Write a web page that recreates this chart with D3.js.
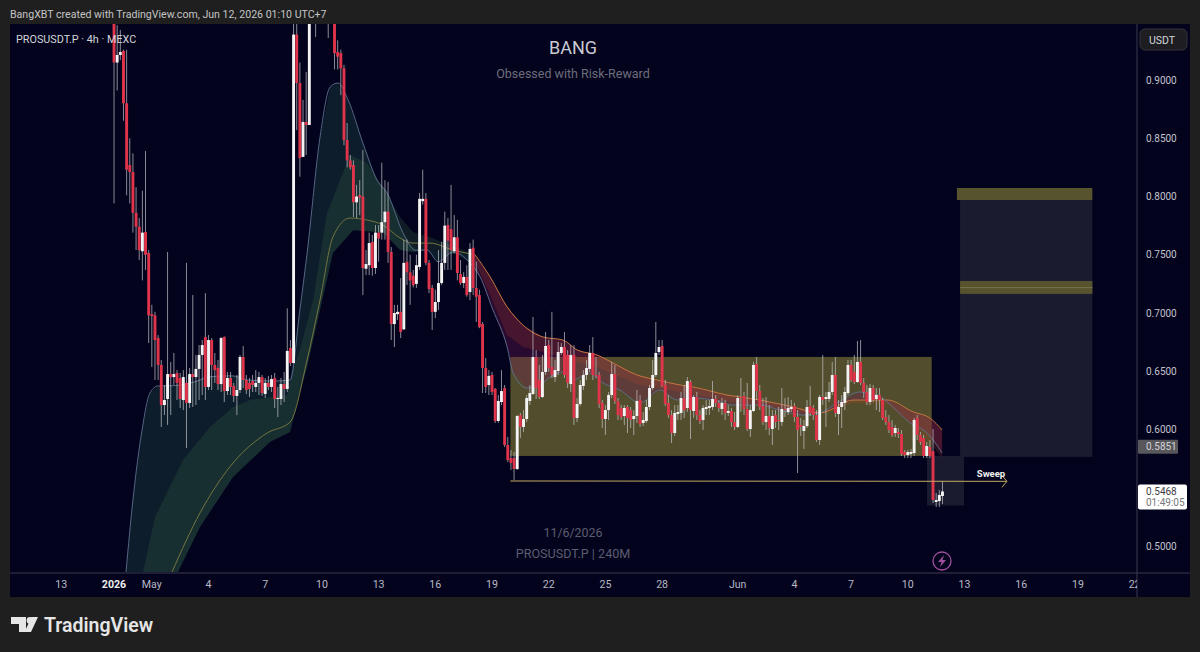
<html>
	<head>
		<meta content="text/html;charset=utf-8" http-equiv="Content-Type">
		<script src="https://d3js.org/d3.v7.min.js"></script>
		<style>
		html, body { margin:0; padding:0; background:#1f1f1f; overflow:hidden; }
		svg { display:block; }
		text { font-family:Roboto, sans-serif; }
		</style>
	</head>
	<body>
		<svg id="chart"></svg>
		<script>

	// 4h candles, oldest first (values above about 0.947 run off the top of the pane)
	var opens = [
		.985,.915,.9215,.925,.880,.827,.821,.786,.774,.753,
		.7695,.7515,.699,.698,.6785,.6554,.621,.6262,.6476,.645,
		.6485,.6442,.6253,.640,.6228,.6476,.645,.652,.664,.6794,
		.6365,.6768,.6554,.6528,.639,.6794,.633,.6442,.6374,.6288,
		.6339,.6622,.6425,.640,.6416,.6365,.640,.645,.6305,.640,
		.6365,.6442,.6262,.6262,.639,.6348,.670,.657,.939,.8974,
		.834,.864,.8614,.96,1.03,1.08,1.05,1.02,1.00,.98,
		.965,.924,.923,.910,.8485,.831,.827,.795,.801,.800,
		.738,.741,.761,.7386,.769,.769,.778,.787,.7524,.6905,
		.699,.701,.686,.744,.735,.732,.725,.7395,.796,.798,
		.743,.7215,.701,.7094,.7257,.743,.7755,.772,.753,.765,
		.7335,.7257,.731,.718,.756,.7215,.7154,.6905,.6528,.6382,
		.6468,.6348,.6073,.6236,.6356,.5867,.5755,.5755,.5661,.6124,
		.6022,.609,.6245,.6305,.6622,.6425,.6279,.6494,.6725,.6537,
		.645,.6502,.6657,.6708,.664,.639,.664,.6099,.6219,.6374,
		.6468,.652,.6657,.6468,.6468,.6228,.609,.6167,.6296,.6476,
		.6245,.6185,.6116,.6193,.6167,.609,.6116,.6253,.6056,.6073,
		.6193,.6356,.6468,.6665,.6717,.6382,.6228,.6124,.597,.6133,
		.6142,.627,.6185,.6408,.6159,.6279,.6124,.6082,.6176,.6185,
		.6193,.6262,.6228,.6176,.6228,.6142,.6159,.6064,.6022,.6279,
		.6288,.6176,.6004,.6159,.6562,.633,.6202,.6064,.6116,.6004,
		.6124,.6082,.6064,.6176,.615,.6176,.6202,.6107,.6039,.5987,
		.603,.6202,.6185,.6124,.591,.6279,.6262,.6262,.6322,.6468,
		.6133,.6193,.6228,.6313,.6554,.6494,.6408,.658,.640,.6322,
		.6236,.6356,.6262,.6296,.6253,.6107,.6064,.6022,.597,.5979,
		.5961,.5807,.5781,.579,.5798,.6099,.5953,.5927,.5773,.585,
		.5815,.5378,.5386,.5429
	];
	var closes = [
		.915,.9215,.924,.880,.823,.821,.786,.774,.754,.769,
		.750,.698,.6974,.6768,.6554,.621,.6253,.6476,.645,.6476,
		.640,.6262,.645,.6228,.6476,.645,.652,.664,.6725,.6365,
		.6768,.6554,.651,.639,.6785,.633,.6442,.6365,.6288,.6339,
		.6622,.6425,.6339,.6348,.6382,.640,.645,.6313,.640,.6365,
		.6433,.6262,.627,.639,.6348,.6674,.657,.939,.8974,.833,
		.864,.8614,.96,1.03,1.08,1.05,1.02,1.00,.98,.965,
		.923,.920,.910,.8485,.831,.825,.795,.800,.799,.7386,
		.742,.760,.7386,.769,.764,.778,.787,.7524,.6905,.700,
		.701,.6837,.743,.735,.728,.724,.741,.798,.798,.743,
		.7206,.701,.7094,.7257,.743,.775,.762,.754,.765,.7343,
		.7257,.731,.7154,.755,.7215,.714,.688,.6528,.6365,.646,
		.6322,.6073,.6245,.633,.5867,.5738,.5713,.5661,.6116,.6022,
		.609,.627,.6313,.6622,.6356,.6279,.6494,.6717,.6528,.6468,
		.651,.6665,.6708,.6468,.640,.664,.6099,.6219,.6382,.6468,
		.6528,.6657,.6468,.646,.6219,.609,.6167,.6296,.6476,.6245,
		.6124,.6107,.6185,.6099,.6082,.6116,.6245,.6047,.6082,.6193,
		.6356,.6468,.6657,.6708,.6374,.6219,.6124,.597,.6142,.615,
		.627,.6167,.6416,.6167,.6279,.6124,.6073,.6185,.6193,.6202,
		.6262,.6228,.6185,.6228,.6142,.6159,.6064,.6022,.627,.627,
		.6176,.6004,.6167,.6554,.633,.6193,.6064,.6116,.6013,.6116,
		.6064,.6073,.6176,.6167,.6185,.6193,.6107,.5996,.6022,.603,
		.6193,.6142,.6124,.591,.6279,.6253,.6279,.6322,.6468,.6142,
		.6193,.6236,.6322,.6554,.6425,.6408,.658,.640,.6322,.6236,
		.6356,.6253,.6296,.6253,.6099,.6064,.5996,.5953,.6013,.5961,
		.579,.5781,.5807,.5807,.6082,.5953,.5893,.5773,.5858,.5773,
		.5395,.5395,.5438,.5468
	];
	var highs = [
		1.02,.947,.943,.926,.926,.850,.837,.808,.7815,.805,
		.839,.754,.707,.701,.681,.6597,.6382,.7524,.658,.6657,
		.651,.6485,.651,.743,.6528,.7154,.664,.6725,.6768,.717,
		.681,.6785,.6657,.6597,.6794,.680,.6494,.6494,.640,.6468,
		.664,.6717,.6468,.6442,.6468,.651,.6494,.6468,.6442,.646,
		.6468,.6485,.6365,.6442,.6494,.704,.6768,1.0,.97,.915,
		.883,.907,1.02,1.06,1.12,1.15,1.10,1.08,1.05,1.02,
		1.0,.934,.926,.913,.8631,.8356,.831,.810,.814,.840,
		.754,.769,.767,.7755,.7755,.829,.814,.8125,.7566,.707,
		.707,.730,.763,.763,.750,.737,.750,.803,.823,.803,
		.7455,.724,.720,.754,.761,.787,.7815,.810,.784,.780,
		.7455,.735,.741,.760,.763,.744,.720,.6923,.6614,.651,
		.6494,.6356,.6296,.651,.6382,.5936,.5824,.5807,.6124,.6142,
		.6167,.6296,.6382,.6966,.6682,.6554,.664,.6837,.6768,.701,
		.6597,.6751,.6742,.6837,.6682,.6725,.6725,.627,.6425,.651,
		.6597,.6725,.6794,.6622,.6494,.6253,.621,.6322,.658,.6554,
		.627,.621,.621,.621,.6193,.6167,.6339,.6296,.615,.6253,
		.6382,.6597,.6923,.6768,.6768,.6425,.6296,.6167,.621,.621,
		.6322,.6382,.645,.6425,.6296,.6322,.6167,.621,.6253,.6253,
		.6416,.6296,.6253,.627,.6253,.621,.6185,.615,.6296,.6442,
		.6322,.640,.621,.658,.6622,.6382,.627,.6279,.621,.6167,
		.6167,.6193,.6356,.627,.6279,.6253,.6228,.6167,.6099,.6082,
		.6253,.6374,.621,.6167,.6296,.664,.6322,.6408,.658,.6622,
		.6253,.6296,.6365,.6597,.6597,.664,.676,.6768,.6442,.6382,
		.639,.6382,.6356,.6356,.627,.6167,.6124,.6082,.6039,.6013,
		.5996,.5824,.5824,.5833,.6099,.6124,.5979,.5953,.5893,.591,
		.6004,.5455,.5481,.5558
	];
	var lows = [
		.794,.891,.917,.865,.801,.794,.769,.754,.7455,.728,
		.737,.6742,.6537,.6425,.6425,.6022,.6124,.6039,.6124,.6382,
		.6253,.6185,.6167,.5841,.6185,.6193,.621,.6253,.6296,.6253,
		.6339,.6339,.640,.6339,.6322,.6236,.6296,.6296,.6236,.6124,
		.6313,.6356,.6305,.6279,.6322,.6322,.6296,.6288,.627,.6339,
		.6322,.6185,.6107,.621,.6236,.6322,.6545,.657,.857,.817,
		.834,.8356,.8614,.955,.937,1.0,1.0,.98,.936,.955,
		.909,.909,.887,.844,.825,.823,.7824,.7815,.784,.7154,
		.7326,.7326,.732,.7335,.744,.763,.763,.743,.6768,.6708,
		.694,.6785,.6854,.724,.707,.722,.7215,.737,.793,.741,
		.717,.6854,.6957,.7026,.724,.737,.737,.737,.7515,.728,
		.724,.7215,.714,.711,.7154,.6923,.687,.6313,.6313,.6296,
		.6296,.6056,.6056,.621,.585,.5721,.5652,.5567,.5652,.5927,
		.5979,.6064,.621,.6296,.6262,.6262,.627,.6468,.6494,.6442,
		.6408,.6468,.664,.6442,.6356,.6322,.6039,.6064,.6202,.6339,
		.6425,.6494,.6425,.6442,.6185,.6013,.5953,.6082,.627,.6219,
		.6082,.6082,.6039,.597,.6013,.5953,.6056,.6022,.603,.6056,
		.6167,.6339,.645,.664,.6365,.6202,.6099,.5884,.5944,.6082,
		.6082,.6099,.615,.5918,.6099,.6082,.6047,.5996,.6124,.6124,
		.6167,.6193,.615,.6124,.6082,.6116,.6022,.5996,.6013,.615,
		.6124,.5987,.5936,.615,.6253,.6167,.6039,.5996,.5953,.5867,
		.6013,.5996,.603,.6107,.6124,.615,.6064,.5627,.5944,.5833,
		.6013,.6116,.6082,.5893,.5867,.621,.6022,.6236,.6296,.6107,
		.5953,.6013,.6167,.6296,.6408,.639,.640,.6382,.627,.621,
		.621,.6236,.6167,.615,.6082,.6039,.597,.5936,.5936,.5927,
		.5773,.5755,.5755,.5755,.5773,.591,.5867,.5755,.5755,.5755,
		.5369,.5335,.5335,.536
	];

	// moving averages, read as [bar number, price] at the bends
	var fastBars = [3.8,6,8.9,11.4,14,16.8,21,27.3,29.5,35.9,37.8,42.2,50.5,55.9,59,61.3,65.4,68.6,71.1,74.3,79,83.5,86.7,91.7,95.6,99.4,102.9,107.6,113,116.2,120.3,124.8,126.7,131.1,134.3,138.4,142.5,145.7,151.1,155.2,160.6,167,173.3,178.7,183.8,190.2,196.5,205,211.4,218.7,224.1,229.5,236.8,242.2,247.3,252.7,258.1,262.9];
	var fastPrices = [.4777,.5395,.5996,.6313,.6374,.6374,.6382,.6425,.645,.646,.646,.6425,.6416,.6425,.7026,.7515,.851,.894,.8974,.883,.846,.814,.803,.769,.754,.754,.744,.7524,.743,.731,.7026,.6708,.6485,.6356,.6365,.645,.6494,.6425,.6485,.640,.6339,.6228,.6339,.6253,.627,.6253,.621,.621,.6167,.6124,.6142,.6228,.6322,.6296,.6193,.6056,.597,.5798];
	var slowBars = [18.4,27.3,36.8,48.6,55.9,61.3,65.4,69.5,74.9,80.3,85.4,90.8,94.9,100.3,107.6,114.6,119.4,124.8,129.8,136.2,142.5,147,153.3,158.4,166,172.4,179.7,183.8,194.6,205,215.6,224.1,234.8,245.6,253.8,259,262.9];
	var slowPrices = [.4777,.5284,.568,.597,.6064,.6597,.7112,.7653,.7815,.7798,.7755,.7644,.76,.76,.754,.75,.731,.7052,.6897,.6794,.6768,.6683,.664,.6571,.6468,.6425,.6382,.6365,.6296,.6253,.6193,.6142,.6253,.6253,.615,.6099,.5996];
	var bandTopBars = [9.2,13,21.9,30.5,37.8,43.2,54.9,56.8,59,63.2,67.6,74.9,80.3,85.4,90.8,94.9,100.3,107.6,114.6];
	var bandTopPrices = [.4777,.5249,.5738,.6022,.6193,.6253,.6296,.651,.6683,.7112,.7858,.8356,.8287,.808,.7824,.7696,.765,.7575,.75];
	var bandLowBars = [20.3,27.3,37.8,49.5,55.9,58.1,61.3,65.4,69.5,75.9,85.4,90.8,94.9,100.3,107.6,114.6];
	var bandLowPrices = [.4777,.5164,.5592,.5893,.5979,.6228,.6537,.7026,.7515,.771,.769,.754,.7524,.754,.7507,.75];
	var redLowBars = [114.6,119.4,124.8,129.8,136.2,142.5,147,153.3,158.4,166,172.4,179.7,183.8,194.6,205,215.6,224.1,234.8,245.6,253.8,259,262.9];
	var redLowPrices = [.7438,.7154,.681,.6708,.6665,.6614,.658,.6537,.6476,.639,.6356,.6322,.6305,.6245,.6202,.6159,.6133,.6228,.621,.6039,.5884,.5755];

	// 0.55 has no label, the last price tag sits on it
	var priceTicks = [0.5,0.6,0.65,0.7,0.75,0.8,0.85,0.9];
	var tickDates = ["2026-04-26T05:00","2026-04-29T00:00","2026-05-01T00:00","2026-05-04T00:00","2026-05-07T00:00","2026-05-10T00:00","2026-05-13T00:00","2026-05-16T00:00","2026-05-19T00:00","2026-05-22T00:00","2026-05-25T00:00","2026-05-28T00:00","2026-06-01T00:00","2026-06-04T00:00","2026-06-07T00:00","2026-06-10T00:00","2026-06-13T00:00","2026-06-16T00:00","2026-06-19T00:00","2026-06-22T00:00"];
	var tickLabels = ["13","2026","May","4","7","10","13","16","19","22","25","28","Jun","4","7","10","13","16","19","22"];

	// drawings on the chart: [from, to, price top, price bottom]
	var rangeBox = ["2026-05-20T00:00","2026-06-11T07:00",.6623,.5773];
	var targetBox = ["2026-06-12T19:00","2026-06-19T19:00",.797,.5765];
	var sweepBox = ["2026-06-11T01:00","2026-06-13T00:00",.5773,.5348];
	var topZone = ["2026-06-12T15:00","2026-06-19T19:00",.8073,.797];
	var midZone = ["2026-06-12T19:00","2026-06-19T19:00",.7275,.7164];
	var sweepLine = ["2026-05-20T00:00","2026-06-15T06:30",.5558,.5555];
	var lastPrice = 0.5468, rangePrice = 0.5851, countdown = "01:49:05";

	page();

	function page(){
		var svg = d3.select("#chart").attr("width",1200).attr("height",652);
		var left = 10, right = 1190, top = 24, bottom = 597, axisX = 1137, axisY = 573;
		var firstBar = new Date(2026,3,29,0,40);

		var x = d3.scaleTime()
			.domain([new Date(2026,4,4), new Date(2026,5,13)])
			.range([208,964]);
		var y = d3.scaleLinear().domain([0.5,0.9]).range([546,80]);
		var barTime = function(i){ return new Date(+firstBar + i*4*3600*1000); };
		var parse = function(s){ return new Date(s); };

		svg.append("rect").attr("width",1200).attr("height",652).attr("fill","#1f1f1f");
		svg.append("rect").attr("x",left).attr("y",top).attr("width",right-left).attr("height",bottom-top).attr("fill","#03031d");

		var defs = svg.append("defs");
		defs.append("clipPath").attr("id","pane").append("rect")
			.attr("x",left).attr("y",top).attr("width",axisX-left).attr("height",axisY-top);
		defs.append("clipPath").attr("id","timeStrip").append("rect")
			.attr("x",left).attr("y",axisY).attr("width",axisX-left).attr("height",bottom-axisY);

		var pane = svg.append("g").attr("clip-path","url(#pane)");

		function box(b, fill){
			pane.append("rect")
				.attr("x",x(parse(b[0]))).attr("y",y(b[2]))
				.attr("width",x(parse(b[1]))-x(parse(b[0])))
				.attr("height",y(b[3])-y(b[2]))
				.attr("fill",fill);
		}
		box(targetBox,"#1b1b30");
		box(sweepBox,"#1b1b30");
		box(topZone,"#58532f");
		box(midZone,"#58532f");
		box(rangeBox,"#524d2c");

		pane.append("line")
			.attr("x1",x(parse(midZone[0]))).attr("x2",x(parse(midZone[1])))
			.attr("y1",y(.7218)).attr("y2",y(.7218))
			.attr("stroke","#77724c").attr("stroke-width",1);

		// ma ribbons
		var pts = function(bars, prices){
			return bars.map(function(b,i){ return [x(barTime(b)), y(prices[i])]; });
		};
		var fast = pts(fastBars,fastPrices), slow = pts(slowBars,slowPrices);
		var bandTop = pts(bandTopBars,bandTopPrices), bandLow = pts(bandLowBars,bandLowPrices);
		var redLow = pts(redLowBars,redLowPrices);
		var slowSplit = slowBars.indexOf(114.6), fastSplit = fastBars.indexOf(116.2);
		var smooth = d3.line().curve(d3.curveMonotoneX);
		var straight = d3.line();

		var poly = function(a, b, fill, op){
			pane.append("path").attr("d",straight(a.concat(b.slice().reverse()))+"Z").attr("fill",fill).attr("opacity",op);
		};
		poly(fast.slice(0,fastSplit+1), bandLow, "#1d4540", 0.4);
		poly(bandTop, bandLow, "#2f5a3e", 0.3);
		poly(fast.slice(fastSplit-1), slow.slice(slowSplit), "#7a1a5a", 0.32);
		poly(slow.slice(slowSplit), redLow, "#c0482a", 0.2);

		pane.append("path").attr("d",smooth(slow.slice(0,slowSplit+1))).attr("fill","none").attr("stroke","#75753f").attr("stroke-width",1);
		pane.append("path").attr("d",smooth(slow.slice(slowSplit))).attr("fill","none").attr("stroke","#c47540").attr("stroke-width",1);
		pane.append("path").attr("d",smooth(fast)).attr("fill","none").attr("stroke","#5d7090").attr("stroke-width",1).attr("opacity",0.9);

		// candles
		var candles = pane.append("g").selectAll("g").data(d3.range(opens.length)).enter().append("g");
		candles.append("line")
			.attr("x1",function(i){ return x(barTime(i)); })
			.attr("x2",function(i){ return x(barTime(i)); })
			.attr("y1",function(i){ return y(highs[i]); })
			.attr("y2",function(i){ return y(lows[i]); })
			.attr("stroke","#c4c4c8").attr("stroke-opacity",0.7).attr("stroke-width",1);
		candles.append("rect")
			.attr("x",function(i){ return x(barTime(i))-1.45; })
			.attr("width",2.9)
			.attr("y",function(i){ return y(Math.max(opens[i],closes[i])); })
			.attr("height",function(i){ return Math.max(1,Math.abs(y(opens[i])-y(closes[i]))); })
			.attr("fill",function(i){ return closes[i]>=opens[i] ? "#f4f4f4" : "#e0344a"; });

		// sweep line and arrow
		var sx1 = x(parse(sweepLine[0])), sx2 = x(parse(sweepLine[1]));
		var sy1 = y(sweepLine[2]), sy2 = y(sweepLine[3]);
		pane.append("line").attr("x1",sx1).attr("x2",sx2).attr("y1",sy1).attr("y2",sy2)
			.attr("stroke","#c4ab62").attr("stroke-width",1);
		pane.append("path").attr("d",straight([[sx2-5,sy2-6],[sx2,sy2],[sx2-5,sy2+6]]))
			.attr("fill","none").attr("stroke","#c4ab62").attr("stroke-width",1);
		pane.append("text").attr("x",991).attr("y",477).attr("text-anchor","middle")
			.attr("font-size",9.5).attr("font-weight",700).attr("fill","#f0f0f0").text("Sweep");

		// watermark texts
		var mark = function(t, yy, size, col){
			svg.append("text").attr("x",573).attr("y",yy).attr("text-anchor","middle")
				.attr("font-size",size).attr("fill",col).text(t);
		};
		mark("BANG",54,18,"#c9cad2");
		mark("Obsessed with Risk-Reward",78,12.5,"#6d6e7c");
		mark("11/6/2026",537,12.4,"#5c5d70");
		mark("PROSUSDT.P | 240M",558,12.6,"#5c5d70");

		// frame lines
		svg.append("line").attr("x1",left).attr("x2",right).attr("y1",axisY).attr("y2",axisY).attr("stroke","#3b3c52");
		svg.append("line").attr("x1",axisX).attr("x2",axisX).attr("y1",top).attr("y2",bottom).attr("stroke","#3b3c52");

		// axes
		var yAxis = d3.axisRight(y).tickValues(priceTicks).tickFormat(d3.format(".4f")).tickSize(0).tickPadding(9);
		var gy = svg.append("g").attr("transform","translate("+axisX+",0)").call(yAxis);
		gy.select(".domain").remove();
		gy.selectAll("text").attr("font-family","Roboto, sans-serif").attr("font-size",10).attr("fill","#c3c4cd");

		var xAxis = d3.axisBottom(x).tickValues(tickDates.map(parse))
			.tickFormat(function(d,i){ return tickLabels[i]; }).tickSize(0).tickPadding(7);
		var gx = svg.append("g").attr("clip-path","url(#timeStrip)").append("g").attr("transform","translate(0,"+axisY+")").call(xAxis);
		gx.select(".domain").remove();
		gx.selectAll("text").attr("font-family","Roboto, sans-serif").attr("font-size",10.6)
			.attr("font-weight",function(d,i){ return i==1 ? 700 : 400; })
			.attr("fill",function(d,i){ return i==1 ? "#f0f0f0" : "#b9bac4"; });

		// price tags
		svg.append("rect").attr("x",axisX+1).attr("y",y(rangePrice)-7).attr("width",40).attr("height",14).attr("fill","#57575c").attr("rx",1);
		svg.append("text").attr("x",axisX+9).attr("y",y(rangePrice)+3.5).attr("font-size",10).attr("fill","#d4d4d8").text(d3.format(".4f")(rangePrice));
		svg.append("rect").attr("x",axisX+1).attr("y",y(lastPrice)-7).attr("width",49).attr("height",25).attr("fill","#ffffff").attr("rx",2);
		svg.append("text").attr("x",axisX+9).attr("y",y(lastPrice)+3.5).attr("font-size",10).attr("fill","#3e3e44").text(d3.format(".4f")(lastPrice));
		svg.append("text").attr("x",axisX+9).attr("y",y(lastPrice)+15).attr("font-size",10).attr("fill","#77777d").text(countdown);

		// USDT button
		svg.append("rect").attr("x",1140).attr("y",29).attr("width",47).attr("height",21).attr("rx",5).attr("fill","#1d1d22").attr("stroke","#34343a");
		svg.append("text").attr("x",1162).attr("y",43.5).attr("text-anchor","middle").attr("font-size",10.5).attr("fill","#d6d6da").text("USDT");

		// header and symbol line
		svg.append("text").attr("x",10).attr("y",18).attr("font-size",10.6).attr("fill","#c4c4c4").text("BangXBT created with TradingView.com, Jun 12, 2026 01:10 UTC+7");
		svg.append("text").attr("x",16).attr("y",43).attr("font-size",10.8).attr("fill","#d3d4da").text("PROSUSDT.P · 4h · MEXC");

		// lightning badge
		var badge = svg.append("g").attr("transform","translate(942,561)");
		badge.append("circle").attr("r",9).attr("fill","none").attr("stroke","#a04f9e").attr("stroke-width",1.3);
		badge.append("path").attr("d","M2,-6 L-4,1 L-0.5,1 L-2,6 L4,-1 L0.5,-1 Z").attr("fill","#a04f9e");

		// footer logo
		var logo = svg.append("g").attr("fill","#e6e6e6");
		logo.append("path").attr("d","M11,617 H26 V632 H19 V624 H11 Z");
		logo.append("circle").attr("cx",30).attr("cy",620.5).attr("r",3.4);
		logo.append("path").attr("d","M31.5,617 H38 L31,632 H24.5 Z");
		svg.append("text").attr("x",44).attr("y",632).attr("font-family","Inter, sans-serif").attr("font-weight",600)
			.attr("font-size",19.5).attr("fill","#e6e6e6").text("TradingView");
	}

		</script>
	</body>
</html>
